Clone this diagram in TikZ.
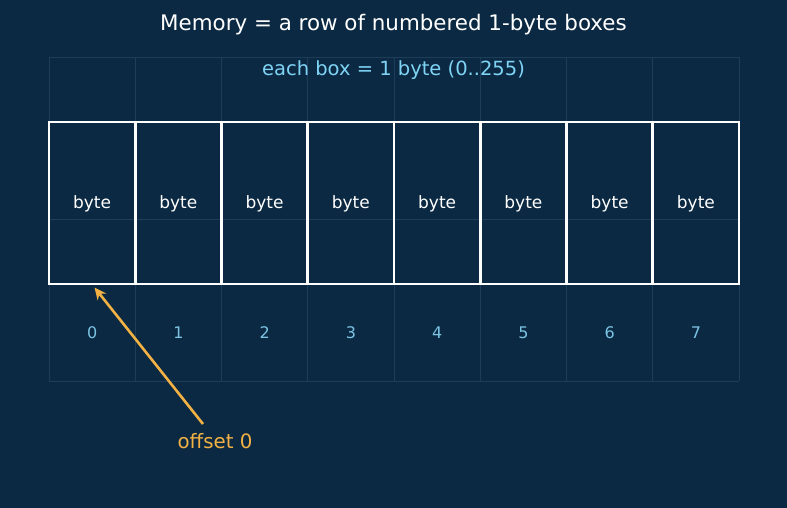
\documentclass[tikz,border=0pt]{standalone}
\usepackage{fontspec}
\setmainfont{DejaVu Sans}
\usetikzlibrary{arrows.meta}
\definecolor{bg}{HTML}{0B2942}
\definecolor{gridc}{HTML}{1E3D58}
\definecolor{idxc}{HTML}{7CC4E4}
\definecolor{subc}{HTML}{7FD3F5}
\definecolor{arrc}{HTML}{F2B144}
\tikzset{
  gridline/.style={draw=gridc, line width=0.8pt},
  boxcell/.style={draw=white, line width=2.6pt, minimum width=86.25pt, minimum height=162pt, inner sep=0pt},
  bytetext/.style={text=white, font=\fontsize{17}{20}\selectfont},
  idx/.style={text=idxc, font=\fontsize{16}{19}\selectfont},
  pointer/.style={draw=arrc, line width=2.6pt, -{Stealth[length=12pt,width=11pt]}},
}
\begin{document}
\begin{tikzpicture}[x=1pt,y=-1pt]
\fill[bg] (0,0) rectangle (787,508);
\useasboundingbox (0,0) rectangle (787,508);
% faint grid
\foreach \i in {0,...,8} {
  \draw[gridline] ({49+86.25*\i},57) -- ({49+86.25*\i},381);
}
\foreach \y in {57,219,381} {
  \draw[gridline] (49,\y) -- (739,\y);
}
% title
\node[text=white, font=\fontsize{21.4}{25}\selectfont] (title) at (393.5,25) {Memory = a row of numbered 1-byte boxes};
\node[text=subc, font=\fontsize{19.5}{23}\selectfont] (sub) at (393.5,70) {each box = 1 byte (0..255)};
% boxes
\foreach \i in {0,...,7} {
  \node[boxcell] (b\i) at ({92.125+86.25*\i},203) {};
  \node[bytetext] (t\i) at ({92.125+86.25*\i},204) {byte};
  \node[idx] (n\i) at ({92.125+86.25*\i},333) {\i};
}
% offset label and pointer
\node[text=arrc, font=\fontsize{19.8}{23}\selectfont] (off) at (215,441) {offset 0};
\coordinate (ptail) at (203,424);
\coordinate (phead) at (94.5,287.5);
\draw[pointer] (ptail) -- (phead);
\end{tikzpicture}
\end{document}
